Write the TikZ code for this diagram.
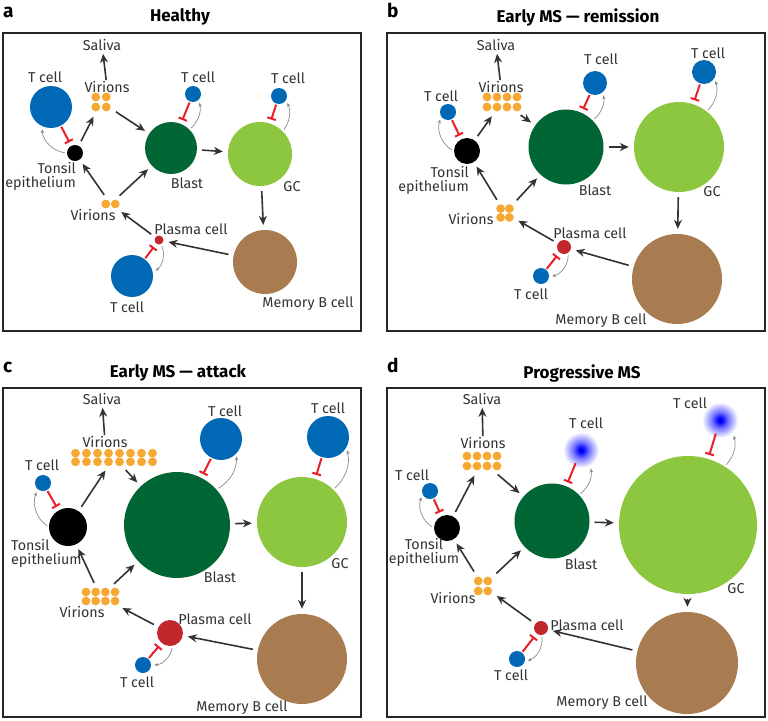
\documentclass[tikz,border=0pt]{standalone}
\usepackage{fontspec}
\setmainfont{Fira Sans}
\usetikzlibrary{arrows.meta}
\definecolor{tblue}{HTML}{0068B5}
\definecolor{blastg}{HTML}{006633}
\definecolor{gcg}{HTML}{8DC63F}
\definecolor{memb}{HTML}{A87C50}
\definecolor{plasr}{HTML}{C1272D}
\definecolor{viro}{HTML}{F7A833}
\definecolor{inhr}{HTML}{E8202A}
\definecolor{arrg}{HTML}{333333}
\definecolor{fbg}{HTML}{8C8C8C}
\definecolor{txtc}{HTML}{333333}
\pgfdeclareradialshading{tblur}{\pgfpoint{0bp}{0bp}}{color(0bp)=(blue!80!black); color(3bp)=(blue); color(11bp)=(blue!55); color(25bp)=(white); color(50bp)=(white)}
\tikzset{
  cellbase/.style={circle, inner sep=0pt, minimum size=#1},
  tcell/.style={cellbase=#1, fill=tblue},
  tblurcell/.style={cellbase=#1, shade, shading=tblur},
  tonsil/.style={cellbase=#1, fill=black},
  blast/.style={cellbase=#1, fill=blastg},
  gcc/.style={cellbase=#1, fill=gcg},
  memory/.style={cellbase=#1, fill=memb},
  plasma/.style={cellbase=#1, fill=plasr},
  vgrp/.style 2 args={rectangle, inner sep=0pt, minimum width=#1, minimum height=#2},
  arr/.style={draw=arrg, line width=1.6pt, -{Stealth[length=9pt,width=8pt]}, shorten <=5pt, shorten >=5pt},
  inh/.style={draw=inhr, line width=2pt, -{Bar[width=9pt]}, shorten <=1pt, shorten >=4pt},
  fb/.style={draw=fbg, line width=0.7pt, -{Stealth[length=4pt,width=3.5pt]}, shorten <=2pt, shorten >=3pt},
  lab/.style={font=\fontsize{14.3}{14}\selectfont, text=txtc, inner sep=0pt},
  ttl/.style={font=\bfseries\fontsize{17}{18}\selectfont, text=black, inner sep=0pt},
  plab/.style={font=\bfseries\fontsize{19}{19}\selectfont, text=black, inner sep=0pt, anchor=base west},
  panel/.style={draw=black!85, line width=2pt},
}
\newcommand\virgrid[7]{%
  \foreach \i in {1,...,#4}{\foreach \j in {1,...,#5}{%
    \fill[viro] ({#2+(\i-(#4+1)/2)*#6},{#3+(\j-(#5+1)/2)*#7}) circle (4.4);}}%
  \node[vgrp={#4*#6}{#5*#7}] (#1) at (#2,#3) {};%
}
\begin{document}
\begin{tikzpicture}[x=1pt,y=-1pt]
\fill[white] (0,0) rectangle (768,720);
\useasboundingbox (0,0) rectangle (768,720);

% ================= panel a =================
\node[plab] (aLet) at (3,17) {a};
\node[ttl] (aTtl) at (180,17) {Healthy};
\draw[panel] (3,33) rectangle (361,331);
\node[tcell=42pt] (aT1) at (51,107) {};
\node[tonsil=16pt] (aTon) at (75,153) {};
\virgrid{aVu}{101}{102}{2}{2}{10.5}{10}
\virgrid{aVl}{110.5}{204}{2}{1}{9.5}{9.5}
\node[blast=52pt] (aBl) at (171,148) {};
\node[tcell=16pt] (aT2) at (193,94) {};
\node[gcc=64pt] (aGC) at (260,154) {};
\node[tcell=16pt] (aT3) at (279,96) {};
\node[memory=64pt] (aMB) at (265,262) {};
\node[plasma=9pt] (aPl) at (159,240) {};
\node[tcell=42pt] (aT4) at (132,276) {};
\node[lab] (aSal) at (102,45) {Saliva};
\node[lab] (aVuL) at (107,87) {Virions};
\node[lab] (aT1L) at (45,77) {T cell};
\node[lab, align=right, anchor=east] (aTonL) at (76,176) {Tonsil\\epithelium};
\node[lab] (aBlL) at (187,183) {Blast};
\node[lab] (aT2L) at (198,77) {T cell};
\node[lab] (aGCL) at (292,187) {GC};
\node[lab] (aT3L) at (288,78) {T cell};
\node[lab] (aMBL) at (308,304) {Memory B cell};
\node[lab] (aPlL) at (191,229) {Plasma cell};
\node[lab] (aVlL) at (93,215) {Virions};
\node[lab] (aT4L) at (127,307) {T cell};
\draw[arr, shorten <=1pt, shorten >=3pt] (aVuL) -- (aSal);
\draw[arr] (aTon) -- (aVu);
\draw[arr] (aVu) -- (aBl);
\draw[arr] (aBl) -- (aGC);
\draw[arr] (aGC) -- (aMB);
\draw[arr] (aMB) -- (aPl);
\draw[arr] (aPl) -- (aVl);
\draw[arr] (aVl) -- (aTon);
\draw[arr] (aVl) -- (aBl);
\draw[inh] (aT1) -- (aTon);
\draw[inh] (aT2) -- (aBl);
\draw[inh] (aT3) -- (aGC);
\draw[inh] (aT4) -- (aPl);
\draw[fb] (aTon.180) to[bend left=40] (aT1.245);
\draw[fb] (aBl.45) to[bend right=30] (aT2.315);
\draw[fb] (aGC.45) to[bend right=30] (aT3.330);
\draw[fb] (aPl.295) to[bend left=40] (aT4.10);

% ================= panel b =================
\node[plab] (bLet) at (387,17) {b};
\node[ttl] (bTtl) at (578,17) {Early MS — remission};
\draw[panel] (387,33) rectangle (765,331);
\node[tcell=16pt] (bT1) at (448,112) {};
\node[tonsil=26pt] (bTon) at (467,151) {};
\virgrid{bVu}{502}{102}{4}{2}{10}{10}
\virgrid{bVl}{505}{213}{2}{2}{8.8}{8.8}
\node[blast=75pt] (bBl) at (566,147) {};
\node[tcell=24pt] (bT2) at (595,83) {};
\node[gcc=90pt] (bGC) at (679,147) {};
\node[tcell=24pt] (bT3) at (704,72) {};
\node[memory=90pt] (bMB) at (677,279) {};
\node[plasma=14pt] (bPl) at (564,247) {};
\node[tcell=16pt] (bT4) at (541,276) {};
\node[lab] (bSal) at (496,45) {Saliva};
\node[lab] (bVuL) at (501,87) {Virions};
\node[lab] (bT1L) at (441,96) {T cell};
\node[lab, align=right, anchor=east] (bTonL) at (469,180.5) {Tonsil\\epithelium};
\node[lab] (bBlL) at (595,190) {Blast};
\node[lab] (bT2L) at (601,59) {T cell};
\node[lab] (bGCL) at (712,192) {GC};
\node[lab] (bT3L) at (708,53) {T cell};
\node[lab] (bMBL) at (601,321) {Memory B cell};
\node[lab] (bPlL) at (590,233) {Plasma cell};
\node[lab] (bVlL) at (471,219) {Virions};
\node[lab] (bT4L) at (531,294) {T cell};
\draw[arr, shorten <=1pt, shorten >=3pt] (bVuL) -- (bSal);
\draw[arr] (bTon) -- (bVu);
\draw[arr] (bVu) -- (bBl);
\draw[arr] (bBl) -- (bGC);
\draw[arr] (bGC) -- (bMB);
\draw[arr] (bMB) -- (bPl);
\draw[arr] (bPl) -- (bVl);
\draw[arr] (bVl) -- (bTon);
\draw[arr] (bVl) -- (bBl);
\draw[inh] (bT1) -- (bTon);
\draw[inh] (bT2) -- (bBl);
\draw[inh] (bT3) -- (bGC);
\draw[inh] (bT4) -- (bPl);
\draw[fb] (bTon.180) to[bend left=40] (bT1.215);
\draw[fb] (bBl.45) to[bend right=30] (bT2.310);
\draw[fb] (bGC.52) to[bend right=30] (bT3.330);
\draw[fb] (bPl.305) to[bend left=40] (bT4.355);

% ================= panel c =================
\node[plab] (cLet) at (3,372) {c};
\node[ttl] (cTtl) at (178,373) {Early MS — attack};
\draw[panel] (3,388) rectangle (361,717);
\node[tcell=16pt] (cT1) at (43,483) {};
\node[tonsil=38pt] (cTon) at (68,527) {};
\virgrid{cVu}{114}{457.5}{8}{2}{11}{8.6}
\virgrid{cVl}{100.5}{596.5}{4}{2}{9.7}{9}
\node[blast=106pt] (cBl) at (177,525) {};
\node[tcell=42pt] (cT2) at (221,439) {};
\node[gcc=90pt] (cGC) at (302,522) {};
\node[tcell=42pt] (cT3) at (328,437) {};
\node[memory=90pt] (cMB) at (302,659) {};
\node[plasma=26pt] (cPl) at (170,633) {};
\node[tcell=16pt] (cT4) at (143,665) {};
\node[lab] (cSal) at (102,399) {Saliva};
\node[lab] (cVuL) at (105,442) {Virions};
\node[lab] (cT1L) at (42,465) {T cell};
\node[lab, align=left, anchor=west] (cTonL) at (11,553) {Tonsil\\epithelium};
\node[lab] (cBlL) at (220,577) {Blast};
\node[lab] (cT2L) at (225,411) {T cell};
\node[lab] (cGCL) at (340,564) {GC};
\node[lab] (cT3L) at (328,408) {T cell};
\node[lab] (cMBL) at (242,708) {Memory B cell};
\node[lab] (cPlL) at (215,619) {Plasma cell};
\node[lab] (cVlL) at (82,612) {Virions};
\node[lab] (cT4L) at (137,682) {T cell};
\draw[arr, shorten <=1pt, shorten >=3pt] (cVuL) -- (cSal);
\draw[arr] (cTon) -- (cVu);
\draw[arr] (cVu) -- (cBl);
\draw[arr] (cBl) -- (cGC);
\draw[arr] (cGC) -- (cMB);
\draw[arr] (cMB) -- (cPl);
\draw[arr] (cPl) -- (cVl);
\draw[arr] (cVl) -- (cTon);
\draw[arr] (cVl) -- (cBl);
\draw[inh] (cT1) -- (cTon);
\draw[inh] (cT2) -- (cBl);
\draw[inh] (cT3) -- (cGC);
\draw[inh] (cT4) -- (cPl);
\draw[fb] (cTon.180) to[bend left=40] (cT1.232);
\draw[fb] (cBl.42) to[bend right=30] (cT2.317);
\draw[fb] (cGC.46) to[bend right=30] (cT3.331);
\draw[fb] (cPl.280) to[bend left=40] (cT4.0);

% ================= panel d =================
\node[plab] (dLet) at (387,372) {d};
\node[ttl] (dTtl) at (582,373) {Progressive MS};
\draw[panel] (387,388) rectangle (765,717);
\node[tcell=16pt] (dT1) at (430,491) {};
\node[tonsil=26pt] (dTon) at (447,528) {};
\virgrid{dVu}{482}{461}{4}{2}{10}{10}
\virgrid{dVl}{483}{586}{2}{2}{9.5}{10}
\node[blast=75pt] (dBl) at (552,521) {};
\node[tblurcell=36pt] (dT2) at (581,450) {};
\node[gcc=138pt] (dGC) at (688,525) {};
\node[tblurcell=36pt] (dT3) at (720,420) {};
\node[memory=102pt] (dMB) at (687,663) {};
\node[plasma=14pt] (dPl) at (541,628) {};
\node[tcell=16pt] (dT4) at (517,659) {};
\node[lab] (dSal) at (482,399) {Saliva};
\node[lab] (dVuL) at (483,443) {Virions};
\node[lab] (dT1L) at (412,475) {T cell};
\node[lab, align=center] (dTonL) at (424,552) {Tonsil\\epithelium};
\node[lab] (dBlL) at (581,564) {Blast};
\node[lab] (dT2L) at (586,423) {T cell};
\node[lab] (dGCL) at (736,589) {GC};
\node[lab] (dT3L) at (690,403) {T cell};
\node[lab] (dMBL) at (602,703) {Memory B cell};
\node[lab] (dPlL) at (587,625) {Plasma cell};
\node[lab] (dVlL) at (453,598) {Virions};
\node[lab] (dT4L) at (511,675) {T cell};
\draw[arr, shorten <=1pt, shorten >=3pt] (dVuL) -- (dSal);
\draw[arr] (dTon) -- (dVu);
\draw[arr] (dVu) -- (dBl);
\draw[arr] (dBl) -- (dGC);
\draw[arr] (dGC) -- (dMB);
\draw[arr] (dMB) -- (dPl);
\draw[arr] (dPl) -- (dVl);
\draw[arr] (dVl) -- (dTon);
\draw[arr] (dVl) -- (dBl);
\draw[inh] (dT1) -- (dTon);
\draw[inh, shorten <=-4pt] (dT2) -- (dBl);
\draw[inh, shorten <=-4pt] (dT3) -- (dGC);
\draw[inh] (dT4) -- (dPl);
\draw[fb] (dTon.180) to[bend left=40] (dT1.205);
\draw[fb] (dBl.44) to[bend right=30] (dT2.301);
\draw[fb] (dGC.58) to[bend right=30] (dT3.315);
\draw[fb] (dPl.275) to[bend left=40] (dT4.342);
\end{tikzpicture}
\end{document}
